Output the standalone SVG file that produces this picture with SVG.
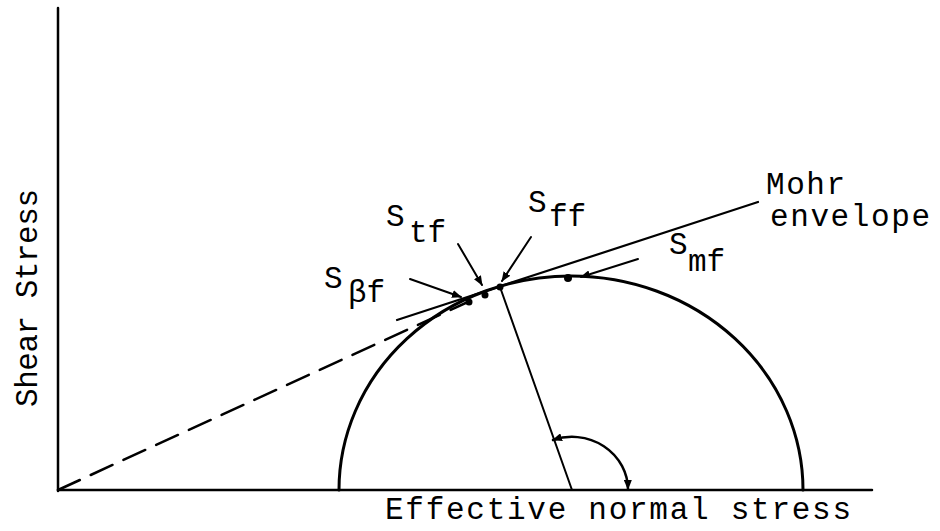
<svg xmlns="http://www.w3.org/2000/svg" width="940" height="531" viewBox="0 0 940 531">
  <defs>
    <style>
      .ln { stroke: #000; fill: none; stroke-linecap: round; }
      .txt { font-family: "Liberation Mono", "DejaVu Sans Mono", monospace; font-size: 31px; fill: #000; }
      .dot { fill: #000; }
    </style>
    <marker id="ah" viewBox="0 0 10 8" refX="9" refY="4" markerWidth="10" markerHeight="8" markerUnits="userSpaceOnUse" orient="auto-start-reverse">
      <path d="M0,0 L10,4 L0,8 Z" fill="#000"/>
    </marker>
  </defs>
  <rect width="940" height="531" fill="#fff"/>

  <g id="axes">
    <line class="ln" x1="58" y1="8" x2="58" y2="491" stroke-width="2.5"/>
    <line class="ln" x1="58" y1="490" x2="872" y2="490" stroke-width="2.5"/>
    <text class="txt" transform="translate(37,298) rotate(-90)" text-anchor="middle" textLength="218" lengthAdjust="spacing">Shear Stress</text>
    <text class="txt" x="385" y="519" textLength="466" lengthAdjust="spacing">Effective normal stress</text>
  </g>

  <g id="mohr-circle">
    <path class="ln" d="M339,490 A232,214 0 0 1 803,490" stroke-width="3"/>
    <line class="ln" x1="500" y1="287" x2="572" y2="490" stroke-width="2"/>
  </g>

  <g id="mohr-envelope">
    <line class="ln" x1="397" y1="320" x2="758" y2="202" stroke-width="2.2"/>
    <text class="txt" x="766" y="194" font-size="28" textLength="79" lengthAdjust="spacing">Mohr</text>
    <text class="txt" x="770" y="226" font-size="28" textLength="160" lengthAdjust="spacing">envelope</text>
  </g>

  <g id="dashed-envelope">
    <line class="ln" x1="58" y1="490" x2="470" y2="301" stroke-width="2.5" stroke-dasharray="24 12" stroke-linecap="butt"/>
  </g>

  <g id="points">
    <circle class="dot" cx="469" cy="302" r="3.5"/>
    <circle class="dot" cx="485" cy="295" r="3.5"/>
    <circle class="dot" cx="500" cy="287" r="3.5"/>
    <circle class="dot" cx="568" cy="278" r="4"/>
  </g>

  <g id="label-sbf">
    <text class="txt" x="324" y="288">S</text>
    <text class="txt" x="348" y="302" font-size="26">βf</text>
  </g>
  <g id="label-stf">
    <text class="txt" x="386" y="226">S</text>
    <text class="txt" x="409" y="242">tf</text>
  </g>
  <g id="label-sff">
    <text class="txt" x="528" y="212">S</text>
    <text class="txt" x="549" y="226">ff</text>
  </g>
  <g id="label-smf">
    <text class="txt" x="669" y="254">S</text>
    <text class="txt" x="688" y="271">mf</text>
  </g>

  <g id="connectors">
    <line class="ln" x1="410" y1="279" x2="461" y2="297" stroke-width="2" marker-end="url(#ah)"/>
    <line class="ln" x1="458" y1="244" x2="482" y2="285" stroke-width="2" marker-end="url(#ah)"/>
    <line class="ln" x1="531" y1="237" x2="502" y2="281" stroke-width="2" marker-end="url(#ah)"/>
    <line class="ln" x1="638" y1="259" x2="581" y2="277" stroke-width="2" marker-end="url(#ah)"/>
    <path class="ln" d="M553,440 A56,53 0 0 1 628,489" stroke-width="2.5" marker-start="url(#ah)" marker-end="url(#ah)"/>
  </g>
</svg>
